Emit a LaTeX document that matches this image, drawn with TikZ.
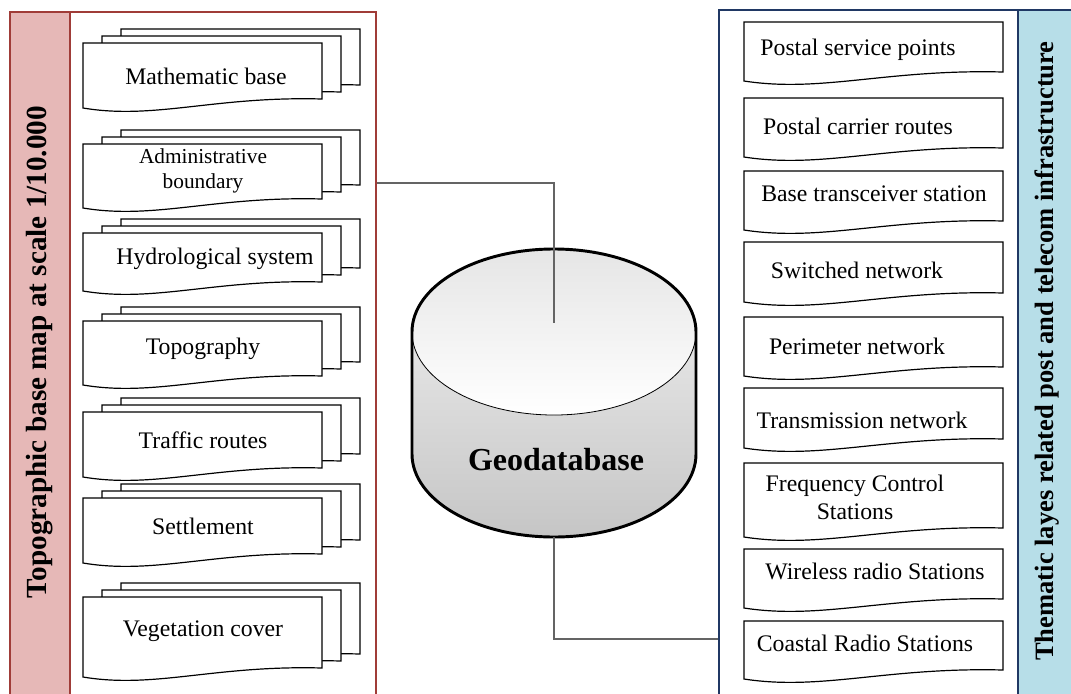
\documentclass[tikz,border=0pt]{standalone}
\usepackage{fontspec}
\setmainfont{Liberation Serif}
\usepackage{xcolor}
\usepackage{tikz}
\usetikzlibrary{positioning,calc}

\definecolor{topored}{RGB}{160,60,56}
\definecolor{topofill}{RGB}{230,184,183}
\definecolor{themblue}{RGB}{32,56,100}
\definecolor{themfill}{RGB}{183,222,232}
\definecolor{linkgray}{RGB}{100,100,100}

% one paper sheet with a wavy lower edge: left, top, width, height
\newcommand{\layersheet}[4]{%
  \draw[sheet] (#1,#2) -- ({#1+#3},#2) -- ({#1+#3},{#2+#4-9})
    .. controls ({#1+0.55*#3},{#2+#4-12}) and ({#1+0.3*#3},{#2+#4+12}) .. (#1,{#2+#4}) -- cycle;}
% three sheets stacked
\newcommand{\layerstack}[4]{%
  \layersheet{#1+38}{#2-14}{#3}{#4}
  \layersheet{#1+19}{#2-7}{#3}{#4}
  \layersheet{#1}{#2}{#3}{#4}}

\begin{document}
\begin{tikzpicture}[
    x=0.75pt, y=-0.75pt,
    sheet/.style={draw=black, fill=white, line width=0.9pt},
    link/.style={draw=linkgray, line width=0.9pt},
    txt/.style={font=\fontsize{17.8}{21}\selectfont, align=center, inner sep=0pt},
    smalltxt/.style={font=\fontsize{16}{18.75}\selectfont, align=center, inner sep=0pt},
    paneltitle/.style={font=\bfseries\fontsize{21.9}{26}\selectfont, rotate=90, inner sep=0pt},
    panel/.style={rectangle, line width=1.1pt, inner sep=0pt}
]
\useasboundingbox (0,0) rectangle (1071,693);
\clip (0,0) rectangle (1071,693);

% ---------------- Panels ----------------
\node[panel, draw=topored, minimum width=274.5pt, minimum height=516pt] (basemap) at (193,356) {};
\node[panel, draw=topored, fill=topofill, rotate=90, minimum width=516pt, minimum height=45pt] (topostrip) at (40,356) {};
\node[paneltitle] (topotitle) at (40,352) {Topographic base map at scale 1/10.000};

\node[panel, draw=themblue, minimum width=267pt, minimum height=517.5pt] (thematic) at (897,355) {};
\node[panel, draw=themblue, fill=themfill, rotate=90, minimum width=517.5pt, minimum height=42.75pt] (themstrip) at (1046.5,355) {};
\node[paneltitle, font=\bfseries\fontsize{19.9}{24}\selectfont] (themtitle) at (1047,351) {Thematic layes related post and telecom infrastructure};

% ---------------- Topographic layers ----------------
\layerstack{83}{43}{239}{65}
\layerstack{83}{144}{239}{64}
\layerstack{83}{233}{239}{58}
\layerstack{83}{321}{239}{64}
\layerstack{83}{412}{239}{65}
\layerstack{83}{498}{239}{65}
\layerstack{83}{597}{239}{80}

\node[txt]      (mathbase)   at (206,76)  {Mathematic base};
\node[smalltxt] (adminbound) at (203,171) {Administrative\\boundary};
\node[txt]      (hydro)      at (215,259) {Hydrological system};
\node[txt]      (topography) at (203,349) {Topography};
\node[txt]      (traffic)    at (203,440) {Traffic routes};
\node[txt]      (settlement) at (203,526) {Settlement};
\node[txt]      (vegetation) at (203,631) {Vegetation cover};

% ---------------- Thematic layers ----------------
\layersheet{744}{22}{259}{59}
\layersheet{744}{98}{259}{59}
\layersheet{744}{171}{259}{59}
\layersheet{744}{242}{259}{60}
\layersheet{744}{317}{259}{59}
\layersheet{744}{388}{259}{60}
\layersheet{744}{463}{259}{74}
\layersheet{744}{549}{259}{59}
\layersheet{744}{621}{259}{58}

\node[txt] (postpoints)   at (858,50)  {Postal service points};
\node[txt] (postroutes)   at (858,126) {Postal carrier routes};
\node[txt] (bts)          at (874,194) {Base transceiver station};
\node[txt] (switched)     at (857,270) {Switched network};
\node[txt] (perimeter)    at (857,346) {Perimeter network};
\node[txt] (transmission) at (862,420) {Transmission network};
\node[txt] (freqctrl)     at (855,497) {Frequency Control\\Stations};
\node[txt] (wireless)     at (875,571) {Wireless radio Stations};
\node[txt] (coastal)      at (865,643) {Coastal Radio Stations};

% ---------------- Geodatabase ----------------
\shade[top color=gray!20, bottom color=gray!45] (412,332) -- (412,454)
  arc[start angle=180, end angle=0, x radius=142, y radius=83] -- (696,332) -- cycle;
\shade[top color=gray!20, bottom color=white] (554,332) ellipse[x radius=142, y radius=83];
\draw[line width=0.6pt] (554,332) ellipse[x radius=142, y radius=83];
\draw[line width=2.2pt] (412,454) -- (412,332)
  arc[start angle=180, end angle=360, x radius=142, y radius=83] -- (696,454)
  arc[start angle=0, end angle=180, x radius=142, y radius=83] -- cycle;
\node[font=\bfseries\fontsize{24}{28}\selectfont] (geo) at (556,460) {Geodatabase};
\coordinate (geotop) at (554,323);
\coordinate (geobot) at (554,537);

\draw[link] (basemap.east |- 0,183) -| (geotop);
\draw[link] (geobot) |- (thematic.west |- 0,639);

\end{tikzpicture}
\end{document}
